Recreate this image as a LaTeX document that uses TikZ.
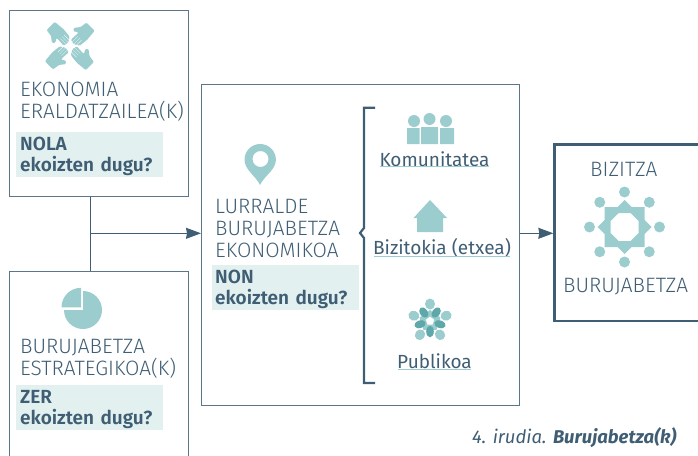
\documentclass[tikz,border=0pt]{standalone}
\usepackage{fontspec}
\setmainfont{Fira Sans Light}[BoldFont={Fira Sans SemiBold},ItalicFont={Fira Sans Italic},BoldItalicFont={Fira Sans Bold Italic}]
\newfontfamily\regfont{Fira Sans}
\usetikzlibrary{arrows.meta}
\definecolor{slate}{HTML}{3F5E74}
\definecolor{teal1}{HTML}{9BCDCE}
\definecolor{teal2}{HTML}{5FA8AA}
\definecolor{pale}{HTML}{E2F0EF}
\tikzset{
  box/.style={draw=slate!85,line width=1.1pt,anchor=north west,inner sep=0pt},
  txt/.style={text=slate,anchor=west,inner sep=0pt,font=\fontsize{20.8}{22}\selectfont,align=left},
  question/.style={fill=pale,text=slate,anchor=north west,inner sep=0pt,minimum height=45pt,font=\bfseries\fontsize{19}{20.5}\selectfont,align=left,text width=147pt},
  link/.style={text=slate,inner sep=0pt,font=\regfont\fontsize{19}{22}\selectfont},
  line/.style={draw=teal1,line width=1pt},
  wire/.style={draw=slate,line width=1pt},
  arrow/.style={wire,-{Stealth[length=15pt,width=11pt,inset=1pt]}}
}
\newcommand{\handshape}{[rounded corners=1pt] (-11,-6) -- (-11,5) -- (-4,6) -- (1,10) -- (3.5,8) -- (1,3.5) -- (11,4) -- (12,-1) -- (9,-6) -- (0,-7) -- cycle}
\newcommand{\ask}[3]{\rule{0pt}{17pt}\hspace{#1}#2\\\hspace{#1}#3}
\begin{document}
\begin{tikzpicture}[x=1pt,y=-1pt]
\clip (0,0) rectangle (698,455);
\node[box,minimum width=179pt,minimum height=186pt] (Ekonomia) at (8.7,9.7) {};
\node[box,minimum width=179pt,minimum height=220pt] (Estrategia) at (8.7,271) {};
\node[box,minimum width=318.3pt,minimum height=321.3pt] (Lurralde) at (201,83.7) {};
\node[box,line width=2.2pt,draw=slate,minimum width=170pt,minimum height=176.7pt] (Bizitza) at (553.3,143.3) {};

\coordinate (J) at (90,233.3);
\draw[wire] (J |- Ekonomia.south) -- (J |- Estrategia.north);
\draw[arrow] (J) -- (J -| Lurralde.west);
\draw[arrow] (J -| Lurralde.east) -- (J -| Bizitza.west);

% left boxes
\node[txt] (T1) at (20,101.5) {EKONOMIA\\ERALDATZAILEA(K)};
\node[question] (Q1) at (16,132) {\ask{4pt}{NOLA}{ekoizten dugu?}};
\node[txt] (T2) at (20,358.5) {BURUJABETZA\\ESTRATEGIKOA(K)};
\node[question] (Q2) at (16,385) {\ask{4pt}{ZER}{ekoizten dugu?}};
% center box
\node[txt] (T3) at (215,228) {LURRALDE\\BURUJABETZA\\EKONOMIKOA};
\node[question] (Q3) at (212,265) {\ask{3pt}{NON}{ekoizten dugu?}};
\draw[draw=slate,line width=2.2pt] (375,107.7) -- (364,107.7) -- (364,228) -- (360,233) -- (364,238) -- (364,383) -- (375,383);
\node[link] (L1) at (434.5,159) {Komunitatea};
\node[link] (L2) at (442,248) {Bizitokia (etxea)};
\node[link] (L3) at (434.5,361) {Publikoa};
\draw[line] (380,166.7) -- (489,166.7);
\draw[line] (374,256.2) -- (510,256.2);
\draw[line] (398,369.2) -- (471,369.2);
% right box
\node[txt] (T4) at (590,169) {BIZITZA};
\node[txt] (T5) at (563,286.5) {BURUJABETZA};
% hands
\foreach \x/\y/\r in {58.5/34.5/-45, 82/34.5/-135, 82/57.5/-225, 57.5/57.5/-315}{
  \fill[teal1,shift={(\x,\y)},rotate=\r,scale=1.05] \handshape;
  \draw[white,line width=0.3pt,shift={(\x,\y)},rotate=\r,scale=1.05] (4,-3.5) -- (12,-3.5) (4,-1) -- (12,-1) (4,1.5) -- (12,1.5);
}
% pie
\fill[teal1] (83,310) -- (83,291) arc[start angle=-90,delta angle=270,radius=19] -- cycle;
\fill[teal1] (81,307.3) -- (61.5,307.3) arc[start angle=180,delta angle=90,radius=19.5] -- cycle;
% pin
\fill[teal1,even odd rule] (260,185) .. controls (256,176) and (244.5,170) .. (244.5,159.7) arc[start angle=180,delta angle=180,radius=15.7] .. controls (275.9,170) and (264,176) .. (260,185) -- cycle (268.5,159) arc[start angle=0,delta angle=360,radius=8] -- cycle;
% people
\fill[teal1] (407,128) rectangle (419.5,144) (421,127) rectangle (438,144) (440,128) rectangle (454,144);
\foreach \x/\y/\r in {414/121/6, 429.5/119/6, 446/121/6}
  \fill[teal1] (\x,\y) circle[radius=\r];
% house
\fill[teal1] (430,200) -- (447,218) -- (443,218) -- (443,232) -- (417,232) -- (417,218) -- (413.5,218) -- cycle;
% public
\fill[teal1,even odd rule,shift={(430,321)}] (90:-11) -- (18:-11) -- (-54:-11) -- (-126:-11) -- (-198:-11) -- cycle (90:-4.5) -- (18:-4.5) -- (-54:-4.5) -- (-126:-4.5) -- (-198:-4.5) -- cycle;
\foreach \a in {0,72,144,216,288} {
  \fill[teal1,shift={(430,321)},rotate=\a] (0,-17) ellipse[x radius=5,y radius=5.5];
  \fill[teal2,shift={(430,321)},rotate=\a+36] (0,-10.5) ellipse[x radius=3.8,y radius=5.8];
}
% bizitza
\foreach \a in {0,45,...,315}
  \fill[teal1,shift={(624.5,227)},rotate=\a] (0,-35) circle[radius=5.5];
\fill[teal1,even odd rule,shift={(624.5,227)}] (0,-27) -- (7,-20) -- (20,-20) -- (20,-7) -- (27,0) -- (20,7) -- (20,20) -- (7,20) -- (0,27) -- (-7,20) -- (-20,20) -- (-20,7) -- (-27,0) -- (-20,-7) -- (-20,-20) -- (-7,-20) -- cycle
  (-6,-14) -- (6,-14) -- (14,-6) -- (14,6) -- (6,14) -- (-6,14) -- (-14,6) -- (-14,-6) -- cycle;
% caption
\node[text=slate,anchor=west,inner sep=0pt,font=\itshape\fontsize{18.5}{20}\selectfont] (Cap) at (472,438) {4. irudia. \textbf{Burujabetza(k)}};
\end{tikzpicture}
\end{document}
